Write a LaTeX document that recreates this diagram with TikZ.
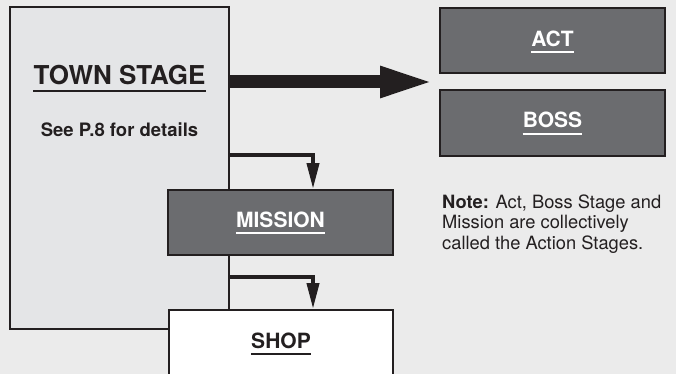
\documentclass[tikz,border=0pt]{standalone}
\usepackage{fontspec}
\setmainfont{TeX Gyre Heros}
\usetikzlibrary{arrows.meta,calc}
\definecolor{bgc}{HTML}{EBEBEB}
\definecolor{townc}{HTML}{E4E5E7}
\definecolor{darkc}{HTML}{6B6C6F}
\definecolor{edgec}{HTML}{231F20}
\tikzset{
  boxbase/.style={draw=edgec, line width=2pt, inner sep=0pt},
  darkbox/.style={boxbase, fill=darkc, minimum width=225pt, minimum height=65pt},
  lbl/.style={anchor=base, inner sep=0pt, font=\fontsize{21}{24}\selectfont\bfseries},
  thinarrow/.style={draw=edgec, line width=4pt, -{Triangle[length=26pt,width=12pt]}},
  ulw/.style={line width=1.8pt}
}
\begin{document}
\begin{tikzpicture}[x=1pt,y=-1pt]
\useasboundingbox (0,0) rectangle (676,374);
\clip (0,0) rectangle (676,374);
\fill[bgc] (0,0) rectangle (676,374);

% boxes
\node[boxbase, fill=townc, minimum width=219pt, minimum height=322pt] (town) at (119.5,168) {};
\node[darkbox] (act) at (552.5,40.5) {};
\node[darkbox] (boss) at (552.5,123) {};
\node[darkbox] (mission) at (280.5,222.5) {};
\node[boxbase, fill=white, minimum width=224pt, minimum height=90pt] (shop) at (281,355) {};

% labels
\node[lbl, font=\fontsize{26}{30}\selectfont\bfseries, text=edgec] (tt) at (119.5,85) {TOWN STAGE};
\draw[edgec, line width=2pt] ([yshift=-6pt]tt.base west) -- ([yshift=-6pt]tt.base east);
\node[lbl, font=\fontsize{18.5}{20}\selectfont\bfseries, text=edgec] (see) at (119.5,137) {See P.8 for details};

\node[lbl, text=white] (tact) at (552.5,47) {ACT};
\draw[white, ulw] ([yshift=-5pt]tact.base west) -- ([yshift=-5pt]tact.base east);
\node[lbl, text=white] (tboss) at (552.5,128) {BOSS};
\draw[white, ulw] ([yshift=-6pt]tboss.base west) -- ([yshift=-6pt]tboss.base east);
\node[lbl, text=white] (tmis) at (280.5,227) {MISSION};
\draw[white, ulw] ([yshift=-6pt]tmis.base west) -- ([yshift=-6pt]tmis.base east);
\node[lbl, text=edgec] (tshop) at (281,348) {SHOP};
\draw[edgec, ulw] ([yshift=-6pt]tshop.base west) -- ([yshift=-6pt]tshop.base east);

\node[anchor=base west, inner sep=0pt, align=left, text=edgec,
      font=\fontsize{18.3}{20.5}\selectfont] (note) at (442,249)
  {\textbf{Note:} Act, Boss Stage and\\Mission are collectively\\called the Action Stages.};

% connectors
\coordinate (tip) at (435,82);
\draw[edgec, line width=13pt, -{Triangle[length=55pt,width=28pt]}] (town.east |- tip) -- (tip);
\coordinate (m1) at (313,155);
\draw[thinarrow] (town.east |- m1) -| (m1 |- mission.north);
\coordinate (s1) at (313,277);
\draw[thinarrow] (town.east |- s1) -| (s1 |- shop.north);
\end{tikzpicture}
\end{document}
